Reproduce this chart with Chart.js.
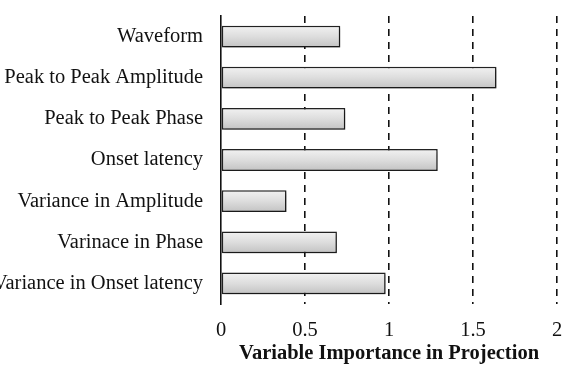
<!DOCTYPE html>
<html lang="en">
<head>
<meta charset="utf-8">
<script src="https://cdn.jsdelivr.net/npm/chart.js@4.4.1/dist/chart.umd.min.js"></script>
<style>
  html, body { margin: 0; padding: 0; background: #fff; }
  #wrap { width: 571px; height: 374px; }
</style>
</head>
<body>
<div id="wrap"><canvas id="chart" width="571" height="374"></canvas></div>
<script>
// data
const features = [
    'Waveform',
    'Peak to Peak Amplitude',
    'Peak to Peak Phase',
    'Onset latency',
    'Variance in Amplitude',
    'Varinace in Phase',
    'Variance in Onset latency'
];
const vipScores = [0.71, 1.64, 0.74, 1.29, 0.39, 0.69, 0.98];
const xTicks = [0, 0.5, 1, 1.5, 2];
const xTitle = 'Variable Importance in Projection';

const serif = 'Liberation Serif';

// soft drop shadow under the bars
const barShadow = {
    id: 'barShadow',
    beforeDatasetsDraw(chart) {
        const ctx = chart.ctx;
        ctx.save();
        ctx.shadowColor = 'rgba(0,0,0,0.35)';
        ctx.shadowBlur = 3;
        ctx.shadowOffsetX = 2;
        ctx.shadowOffsetY = 2;
    },
    afterDatasetsDraw(chart) {
        chart.ctx.restore();
    }
};

// grey gradient, light on top, darker at the bottom
function barFill(context) {
    const chart = context.chart;
    const yScale = chart.scales.y;
    if (!chart.chartArea || !yScale) return '#dcdcdc';
    const c = yScale.getPixelForValue(context.dataIndex);
    const half = 11;
    const g = chart.ctx.createLinearGradient(0, c - half, 0, c + half);
    g.addColorStop(0, '#f2f2f2');
    g.addColorStop(0.5, '#dddddd');
    g.addColorStop(1, '#c2c2c2');
    return g;
}

new Chart(document.getElementById('chart'), {
    type: 'bar',
    data: {
        labels: features,
        datasets: [{
            data: vipScores,
            backgroundColor: barFill,
            borderColor: '#222',
            borderWidth: 1.5,
            borderSkipped: false,
            barPercentage: 0.53,
            categoryPercentage: 1
        }]
    },
    options: {
        indexAxis: 'y',
        responsive: false,
        animation: false,
        layout: { padding: { top: 16, right: 14, left: 0, bottom: 0 } },
        plugins: {
            legend: { display: false },
            tooltip: { enabled: false }
        },
        scales: {
            x: {
                min: 0,
                max: 2,
                afterBuildTicks: (scale) => {
                    scale.ticks = xTicks.map(v => ({ value: v }));
                },
                afterFit: (scale) => {
                    scale.height = 70;
                    scale.paddingLeft = 0;
                    scale.paddingRight = 0;
                },
                border: { display: false, dash: [7, 6] },
                grid: {
                    color: (c) => c.tick && c.tick.value === 0 ? 'rgba(0,0,0,0)' : '#111',
                    lineWidth: 1.6,
                    drawTicks: false
                },
                ticks: {
                    padding: 14,
                    color: '#111',
                    font: { family: serif, size: 20.5 },
                    callback: (v) => String(v)
                },
                title: {
                    display: true,
                    text: xTitle,
                    color: '#111',
                    font: { family: serif, size: 20.5, weight: 'bold' },
                    padding: { top: 4, bottom: 8 }
                }
            },
            y: {
                afterFit: (scale) => {
                    scale.width = 221;
                    scale.paddingTop = 0;
                    scale.paddingBottom = 0;
                },
                border: { display: true, color: '#111', width: 1.6 },
                grid: { display: false, drawTicks: false },
                ticks: {
                    padding: 18,
                    color: '#111',
                    font: { family: serif, size: 20.5 }
                }
            }
        }
    },
    plugins: [barShadow]
});
</script>
</body>
</html>
